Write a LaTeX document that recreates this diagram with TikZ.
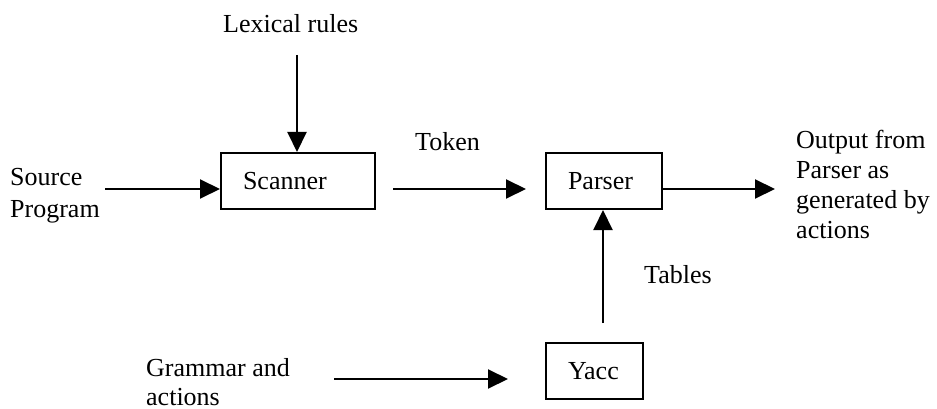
\documentclass[tikz,border=0pt]{standalone}
\usepackage{fontspec}
\setmainfont{Liberation Serif}
\usetikzlibrary{arrows.meta}
\begin{document}
\begin{tikzpicture}[x=1pt,y=-1pt,
  every node/.style={font=\fontsize{26}{30}\selectfont},
  label/.style={inner sep=0pt,anchor=base west,align=left},
  stage/.style={draw,line width=2pt,rectangle,inner xsep=22pt,inner ysep=0pt,
    text depth=0pt,minimum height=56pt,anchor=north west},
  flow/.style={line width=2pt,-{Triangle[length=20pt,width=19pt]}}]
  \useasboundingbox (0,0) rectangle (937,409);

  % processing stages
  \node[stage,minimum width=154pt,text width=110pt] (scan) at (220,152) {Scanner};
  \node[stage,minimum width=116pt,text width=72pt]  (pars) at (545,152) {Parser};
  \node[stage,minimum width=97pt,text width=53pt]   (yacc) at (545,342) {Yacc};

  % inputs, outputs and labels (multi-line labels are placed by their last baseline)
  \node[label] (lex) at (223,33) {Lexical rules};
  \node[label,font=\fontsize{26}{32}\selectfont] (src) at (10,217) {Source\\Program};
  \node[label] (tok) at (415,150) {Token};
  \node[label] (out) at (796,238) {Output from\\Parser as\\generated by\\actions};
  \node[label] (tab) at (644,283) {Tables};
  \node[label,font=\fontsize{26}{29}\selectfont] (gram) at (146,405) {Grammar and\\actions};

  % free ends of the connectors
  \coordinate (lexend) at (297,55);
  \coordinate (srcend) at (105,189);
  \coordinate (tokstart) at (393,189);
  \coordinate (tokend) at (526,189);
  \coordinate (outend) at (775,189);
  \coordinate (tabend) at (603,323);
  \coordinate (gramstart) at (334,379);
  \coordinate (gramend) at (508,379);

  % connectors
  \draw[flow] (lexend) -- (lexend |- scan.north);
  \draw[flow] (srcend) -- (srcend -| scan.west);
  \draw[flow] (tokstart) -- (tokend);
  \draw[flow] (outend -| pars.east) -- (outend);
  \draw[flow] (tabend) -- (tabend |- pars.south);
  \draw[flow] (gramstart) -- (gramend);
\end{tikzpicture}
\end{document}
